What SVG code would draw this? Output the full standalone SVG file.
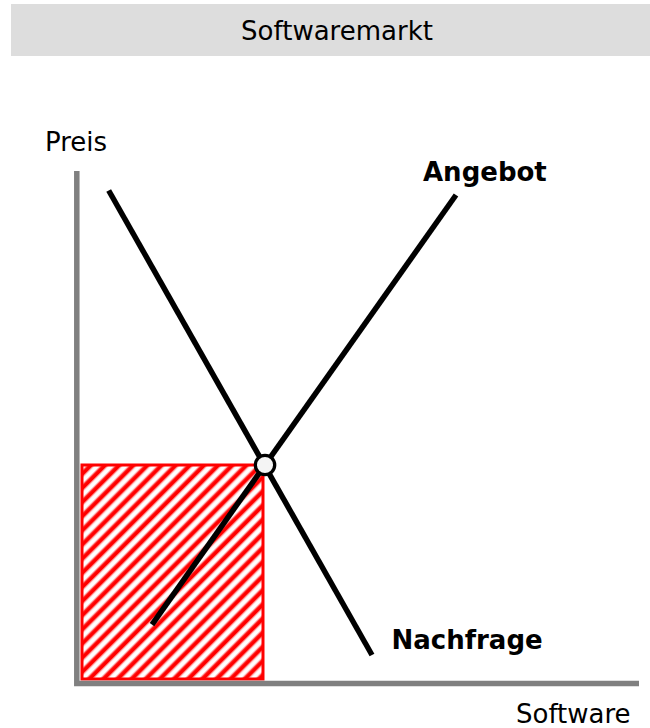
<svg xmlns="http://www.w3.org/2000/svg" width="650" height="728" viewBox="0 0 650 728">
  <defs>
    <linearGradient id="stripeGrad" x1="0" y1="0" x2="1" y2="0">
      <stop offset="0" stop-color="#ffffff"/>
      <stop offset="0.15" stop-color="#ff3030"/>
      <stop offset="0.25" stop-color="#ff0000"/>
      <stop offset="0.45" stop-color="#ff0000"/>
      <stop offset="0.6" stop-color="#ffd0d0"/>
      <stop offset="0.7" stop-color="#ffffff"/>
      <stop offset="1" stop-color="#ffffff"/>
    </linearGradient>
    <pattern id="hatch" patternUnits="userSpaceOnUse" width="10" height="10" patternTransform="rotate(45)">
      <rect x="0" y="0" width="10" height="10" fill="url(#stripeGrad)"/>
    </pattern>
  </defs>
  <style>
    .txt { font-family: "DejaVu Sans", Verdana, sans-serif; font-size: 26px; fill: #000000; }
    .bold { font-weight: bold; }
    .axis { fill: none; stroke: #808080; stroke-width: 5.5; stroke-linecap: butt; stroke-linejoin: miter; }
    .curve { fill: none; stroke: #000000; stroke-width: 5.5; stroke-linecap: butt; }
  </style>

  <g id="title">
    <rect x="11" y="4" width="639" height="52" fill="#dddddd"/>
    <text class="txt" x="337" y="40" text-anchor="middle">Softwaremarkt</text>
  </g>

  <g id="revenue-area">
    <rect x="82" y="465" width="181" height="214" fill="url(#hatch)" stroke="#ff0000" stroke-width="3"/>
  </g>

  <g id="axes">
    <path class="axis" d="M76.8,171 V683.5 H639"/>
    <text class="txt" x="45" y="150.5">Preis</text>
    <text class="txt" x="516" y="723">Software</text>
  </g>

  <g id="connectors">
    <line id="nachfrage-line" class="curve" x1="108.7" y1="190.5" x2="372" y2="655"/>
    <line id="angebot-line" class="curve" x1="152" y1="624.7" x2="456" y2="195"/>
  </g>

  <g id="angebot">
    <text class="txt bold" x="423" y="180.5">Angebot</text>
  </g>

  <g id="nachfrage">
    <text class="txt bold" x="391.5" y="649">Nachfrage</text>
  </g>

  <g id="equilibrium">
    <circle cx="265" cy="465" r="9.7" fill="#f4f4f4" stroke="#000000" stroke-width="3.3"/>
  </g>
</svg>
